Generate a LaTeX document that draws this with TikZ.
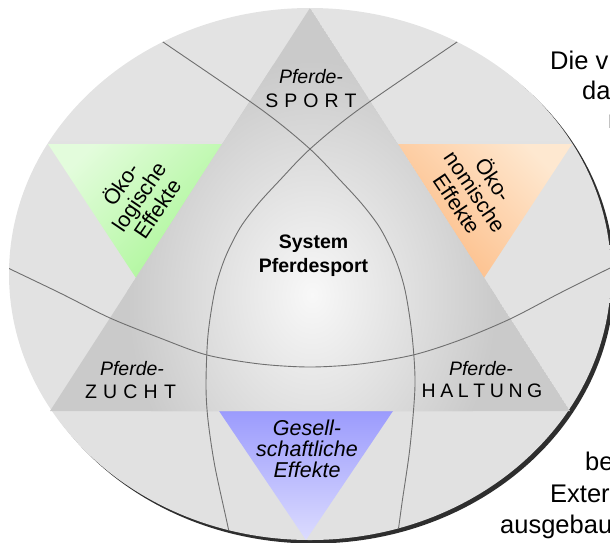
\documentclass[tikz,border=0pt]{standalone}
\usepackage{fontspec}
\setmainfont{Liberation Sans}
\begin{document}
\begin{tikzpicture}[x=1pt,y=-1pt,
  lab/.style={inner sep=0pt, font=\fontsize{19.5}{23}\selectfont},
  effekt/.style={inner sep=0pt, align=center, font=\fontsize{21.5}{22}\selectfont},
  bgtext/.style={inner sep=0pt, anchor=base west, font=\fontsize{25.5}{30}\selectfont},
  arcline/.style={draw=arcgray, line width=0.9pt}]
\definecolor{rimshadow}{HTML}{2E2E2E}
\definecolor{disctop}{HTML}{E3E3E3}
\definecolor{discmid}{HTML}{F3F3F3}
\definecolor{discbot}{HTML}{E1E1E1}
\definecolor{trigray}{HTML}{CACACA}
\definecolor{trilight}{HTML}{F8F8F8}
\definecolor{greenlight}{HTML}{E3FCDC}
\definecolor{greendeep}{HTML}{AAF696}
\definecolor{orangelight}{HTML}{FEE8D0}
\definecolor{orangedeep}{HTML}{FDBB84}
\definecolor{bluedeep}{HTML}{9B9BFD}
\definecolor{bluelight}{HTML}{DCDCFE}
\definecolor{arcgray}{HTML}{6F6F6F}

\useasboundingbox (0,0) rectangle (610,542);
\clip (0,0) rectangle (610,542);

% disc with its drop shadow
\fill[rimshadow] (313.5,277.5) ellipse [x radius=301, y radius=266];
\shade[top color=disctop, middle color=discmid, bottom color=discbot]
  (310,274) ellipse [x radius=301, y radius=266];

% the three effect triangles
\shade[top color=greenlight, bottom color=greendeep, shading angle=45]
  (48,144) -- (222,144) -- (136,278) -- cycle;
\shade[top color=orangelight, bottom color=orangedeep, shading angle=-45]
  (398,144) -- (572,144) -- (484,278) -- cycle;
\shade[top color=bluedeep, bottom color=bluelight]
  (219,411) -- (393,411) -- (306,540) -- cycle;

% central triangle with a soft highlight
\begin{scope}
  \clip (310,8) -- (50,411) -- (570,411) -- cycle;
  \fill[trigray] (310,8) -- (50,411) -- (570,411) -- cycle;
  \shade[inner color=trilight, outer color=trigray]
    (312,295) ellipse [x radius=185, y radius=235];
\end{scope}

% the three sweeping arcs
\begin{scope}
  \clip (310,274) ellipse [x radius=301, y radius=266];
  \draw[arcline] plot[smooth] coordinates {(140,26) (163,42) (262,110) (310,149)
    (340,180) (362,204) (380,228) (395,258) (405,290) (412,335) (415,385)
    (410,447) (402,503) (397,540) (395,556)};
  \draw[arcline] plot[smooth] coordinates {(480,26) (457,42) (358,110) (310,149)
    (280,180) (258,204) (240,228) (225,258) (215,290) (208,335) (206,385)
    (208,420) (215,467) (229,532) (232,556)};
  \draw[arcline] plot[smooth] coordinates {(-10,259) (8,268) (60,293) (110,318)
    (160,338) (207,355) (260,364) (310,367) (360,364) (413,355) (460,340)
    (510,319) (560,293) (612,267) (630,258)};
\end{scope}

% corner labels
\node[lab, anchor=base] (sporttop) at (311,83) {\itshape Pferde-};
\node[lab, anchor=base] (sportbot) at (311,107) {S\kern6pt P\kern6pt O\kern6pt R\kern6pt T};
\node[lab, anchor=base] (zuchttop) at (132,375) {\itshape Pferde-};
\node[lab, anchor=base] (zuchtbot) at (130.5,398) {Z\kern6.2pt U\kern6.2pt C\kern6.2pt H\kern6.2pt T};
\node[lab, anchor=base] (haltungtop) at (481,375) {\itshape Pferde-};
\node[lab, anchor=base] (haltungbot) at (482,397) {H\kern4.6pt A\kern4.6pt L\kern4.6pt T\kern4.6pt U\kern4.6pt N\kern4.6pt G};

% centre
\node[lab, anchor=base, font=\fontsize{19.5}{23}\selectfont\bfseries] (systemA) at (313.5,248) {System};
\node[lab, anchor=base, font=\fontsize{19.5}{23}\selectfont\bfseries] (systemB) at (313.5,272) {Pferdesport};

% effect labels
\node[effekt, rotate=56] (oekolog) at (138,196) {Öko-\\logische\\Effekte};
\node[effekt, rotate=-56] (oekonom) at (476,191) {Öko-\\nomische\\Effekte};
\node[effekt, anchor=base, font=\fontsize{21.5}{22}\selectfont\itshape] (gesA) at (307,435) {Gesell-};
\node[effekt, anchor=base, font=\fontsize{21.5}{22}\selectfont\itshape] (gesB) at (307,456) {schaftliche};
\node[effekt, anchor=base, font=\fontsize{21.5}{22}\selectfont\itshape] (gesC) at (307,477) {Effekte};

% running text beside the disc
\node[bgtext] (txtA) at (550,69) {Die v};
\node[bgtext] (txtB) at (582,99) {da};
\node[bgtext] (txtC) at (608,128) {n};
\node[bgtext] (txtD) at (585,470) {be};
\node[bgtext] (txtE) at (550,502) {Exter};
\node[bgtext] (txtF) at (500,533) {ausgebau};
\end{tikzpicture}
\end{document}
